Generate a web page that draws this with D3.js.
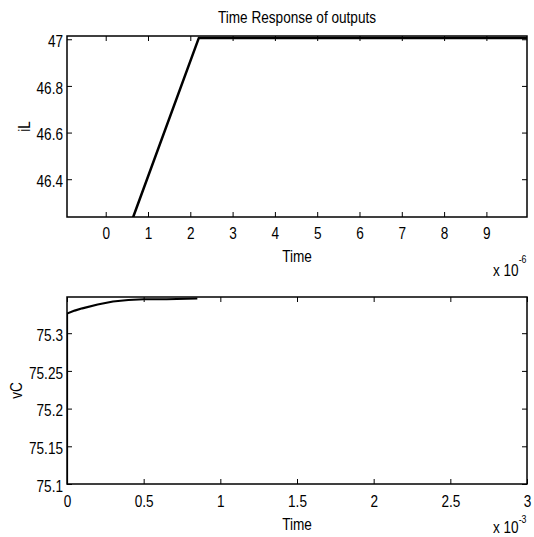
<!DOCTYPE html>
<html>
<head>
<meta charset="utf-8">
<script src="https://cdn.jsdelivr.net/npm/d3@7"></script>
<style>
    body { margin: 0; background: #fff; }
    svg text { font-family: "Liberation Sans", Arial, sans-serif; fill: #000; }
</style>
</head>
<body>
<div id="chart"></div>
<script>
// iL response, time in units of 1e-6 s
const iLTime = [0.40, 0.65, 2.20, 9.96];
const iLValue = [46.11, 46.238, 47.005, 47.005];
const iLTicksX = [0, 1, 2, 3, 4, 5, 6, 7, 8, 9];
const iLTicksY = [46.4, 46.6, 46.8, 47];

// vC response, time in units of 1e-3 s
const vCTime = [0, 0, 0.05, 0.10, 0.20, 0.30, 0.40, 0.50, 0.65, 0.85];
const vCValue = [75.1, 75.326, 75.330, 75.333, 75.338, 75.342, 75.344, 75.345, 75.345, 75.346];
const vCTicksX = [0, 0.5, 1, 1.5, 2, 2.5, 3];
const vCTicksY = [75.1, 75.15, 75.2, 75.25, 75.3];

const FONT = 17;
const NARROW = 0.8;

// squeeze a text horizontally around its anchor point (no narrow font installed)
function narrow(sel, extra) {
    sel.each(function () {
        let t = d3.select(this);
        let x = +(t.attr("x") || 0), y = +(t.attr("y") || 0);
        t.attr("x", 0).attr("y", 0)
            .attr("transform", "translate(" + x + "," + y + ")" + (extra || "") + " scale(" + NARROW + ",1)");
    });
}

class TimePlot {

    constructor(svg, cfg) {
        this.svg = svg;
        this.cfg = cfg;
        this.initVis();
    }

    initVis() {
        let vis = this;
        let c = vis.cfg;

        vis.width = c.right - c.left;
        vis.height = c.bottom - c.top;

        vis.g = vis.svg.append("g")
            .attr("transform", "translate(" + c.left + "," + c.top + ")");

        vis.x = d3.scaleLinear().domain(c.xDomain).range([0, vis.width]);
        vis.y = d3.scaleLinear().domain(c.yDomain).range([vis.height, 0]);

        // clip the curve to the axes box
        vis.g.append("clipPath")
            .attr("id", c.id + "-clip")
            .append("rect")
            .attr("width", vis.width)
            .attr("height", vis.height);

        let line = d3.line()
            .x((d, i) => vis.x(c.xs[i]))
            .y(d => vis.y(d));

        vis.g.append("path")
            .datum(c.ys)
            .attr("clip-path", "url(#" + c.id + "-clip)")
            .attr("fill", "none")
            .attr("stroke", "#000")
            .attr("stroke-width", c.lineWidth)
            .attr("stroke-linejoin", "round")
            .attr("d", line);

        // inward ticks on all four sides, labels on left and bottom
        vis.g.append("g")
            .attr("class", "xaxis")
            .attr("transform", "translate(0," + vis.height + ")")
            .call(d3.axisBottom(vis.x).tickValues(c.xTicks).tickSizeInner(-5).tickSizeOuter(0)
                .tickPadding(c.xPad).tickFormat(d3.format("~g")));
        vis.g.append("g")
            .call(d3.axisTop(vis.x).tickValues(c.xTicks).tickSizeInner(-5).tickSizeOuter(0).tickFormat(""));
        vis.g.append("g")
            .attr("class", "yaxis")
            .call(d3.axisLeft(vis.y).tickValues(c.yTicks).tickSizeInner(-5).tickSizeOuter(0)
                .tickPadding(4).tickFormat(d3.format("~g")));
        vis.g.append("g")
            .attr("transform", "translate(" + vis.width + ",0)")
            .call(d3.axisRight(vis.y).tickValues(c.yTicks).tickSizeInner(-5).tickSizeOuter(0).tickFormat(""));

        vis.g.selectAll(".domain").remove();
        vis.g.selectAll(".tick line").attr("stroke", "#000");
        vis.g.selectAll(".tick text")
            .attr("font-size", FONT)
            .attr("font-family", null)
            .attr("fill", "#000");
        vis.g.selectAll(".yaxis .tick text").attr("dy", "0.42em");
        narrow(vis.g.selectAll(".tick text"));

        // axes box
        vis.g.append("rect")
            .attr("width", vis.width)
            .attr("height", vis.height)
            .attr("fill", "none")
            .attr("stroke", "#000")
            .attr("stroke-width", 1.5);

        // axis labels
        vis.g.append("text")
            .attr("x", vis.width / 2)
            .attr("y", vis.height + c.xLabelOffset)
            .attr("text-anchor", "middle")
            .attr("font-size", FONT)
            .text("Time")
            .call(narrow);

        vis.g.append("text")
            .attr("x", c.yLabelX)
            .attr("y", vis.height / 2)
            .attr("text-anchor", "middle")
            .attr("font-size", FONT)
            .text(c.yLabel)
            .call(narrow, " rotate(-90)");

        // exponent of the time axis
        let ex = vis.g.append("text")
            .attr("x", 426)
            .attr("y", vis.height + c.expOffset)
            .attr("font-size", FONT);
        ex.append("tspan").text("x 10");
        ex.append("tspan").attr("dy", c.supDy).attr("font-size", 11).text(c.exponent);
        narrow(ex);
    }
}

let svg = d3.select("#chart").append("svg")
    .attr("width", 534)
    .attr("height", 537);

svg.append("text")
    .attr("x", 297)
    .attr("y", 23)
    .attr("text-anchor", "middle")
    .attr("font-size", FONT)
    .text("Time Response of outputs")
    .call(narrow);

let iLPlot = new TimePlot(svg, {
    id: "iL", left: 67, right: 527, top: 36, bottom: 217,
    xDomain: [-0.915, 9.96], yDomain: [46.238, 47.014],
    xs: iLTime, ys: iLValue, xTicks: iLTicksX, yTicks: iLTicksY,
    lineWidth: 2.5, yLabel: "iL", yLabelX: -37, xPad: 10, xLabelOffset: 45,
    expOffset: 59, supDy: -13, exponent: "-6"
});

let vCPlot = new TimePlot(svg, {
    id: "vC", left: 67, right: 527, top: 297, bottom: 484,
    xDomain: [0, 3], yDomain: [75.1, 75.348],
    xs: vCTime, ys: vCValue, xTicks: vCTicksX, yTicks: vCTicksY,
    lineWidth: 2.2, yLabel: "vC", yLabelX: -45, xPad: 11, xLabelOffset: 46,
    expOffset: 49, supDy: -10, exponent: "-3"
});
</script>
</body>
</html>
